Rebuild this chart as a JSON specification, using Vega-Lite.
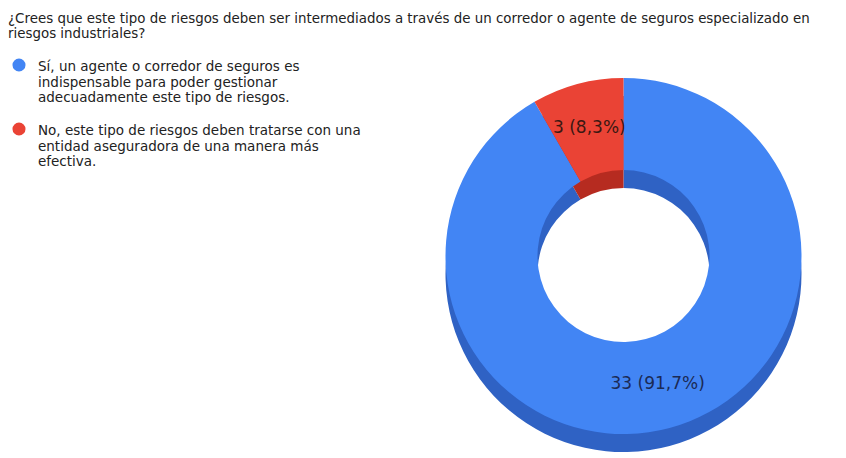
{
  "$schema": "https://vega.github.io/schema/vega-lite/v6.json",
  "width": 846,
  "height": 458,
  "autosize": {"type": "fit", "contains": "padding"},
  "padding": {"left": 8, "top": 11, "right": 4, "bottom": 0},
  "background": "white",
  "title": {
    "text": ["¿Crees que este tipo de riesgos deben ser intermediados a través de un corredor o agente de seguros especializado en", "riesgos industriales?"],
    "anchor": "start",
    "frame": "bounds",
    "font": "DejaVu Sans",
    "fontSize": 13.4,
    "fontWeight": "normal",
    "color": "#222222",
    "lineHeight": 15,
    "offset": 14
  },
  "data": {
    "values": [
      {"respuesta": "Sí, un agente o corredor de seguros es indispensable para poder gestionar adecuadamente este tipo de riesgos.", "valor": 33, "etiqueta": "33 (91,7%)", "orden": 1},
      {"respuesta": "No, este tipo de riesgos deben tratarse con una entidad aseguradora de una manera más efectiva.", "valor": 3, "etiqueta": "3 (8,3%)", "orden": 2}
    ]
  },
  "encoding": {
    "theta": {"field": "valor", "type": "quantitative", "stack": true},
    "order": {"field": "orden", "type": "quantitative"}
  },
  "layer": [
    {
      "mark": {"type": "arc", "outerRadius": 178, "innerRadius": 86, "yOffset": 18},
      "encoding": {
        "fill": {
          "field": "orden",
          "type": "nominal",
          "scale": {"domain": [1, 2], "range": ["#2f62c4", "#b62b20"]},
          "legend": null
        }
      }
    },
    {
      "mark": {"type": "arc", "outerRadius": 178, "innerRadius": 86},
      "encoding": {
        "color": {
          "field": "respuesta",
          "type": "nominal",
          "scale": {"domain": ["Sí, un agente o corredor de seguros es indispensable para poder gestionar adecuadamente este tipo de riesgos.", "No, este tipo de riesgos deben tratarse con una entidad aseguradora de una manera más efectiva."], "range": ["#4285f4", "#ea4335"]},
          "legend": {
            "orient": "left",
            "title": null,
            "symbolType": "circle",
            "symbolSize": 170,
            "symbolStrokeWidth": 0,
            "labelFont": "DejaVu Sans",
            "labelFontSize": 13.5,
            "labelColor": "#222222",
            "labelLimit": 420,
            "labelBaseline": "top",
            "labelLineHeight": 12.5,
            "labelOffset": 12,
            "rowPadding": 17,
            "offset": 40,
            "padding": 4,
            "encode": {"labels": {"update": {"dy": {"value": -5}}}},
            "labelExpr": "datum.label == 'Sí, un agente o corredor de seguros es indispensable para poder gestionar adecuadamente este tipo de riesgos.' ? ['Sí, un agente o corredor de seguros es', 'indispensable para poder gestionar', 'adecuadamente este tipo de riesgos.'] : ['No, este tipo de riesgos deben tratarse con una', 'entidad aseguradora de una manera más', 'efectiva.']"
          }
        }
      }
    },
    {
      "mark": {"type": "text", "radius": 132, "font": "DejaVu Sans", "fontSize": 17},
      "encoding": {
        "text": {"field": "etiqueta", "type": "nominal"},
        "color": {"condition": {"test": "datum.orden == 2", "value": "#3a1812"}, "value": "#1b2a55"}
      }
    }
  ]
}
